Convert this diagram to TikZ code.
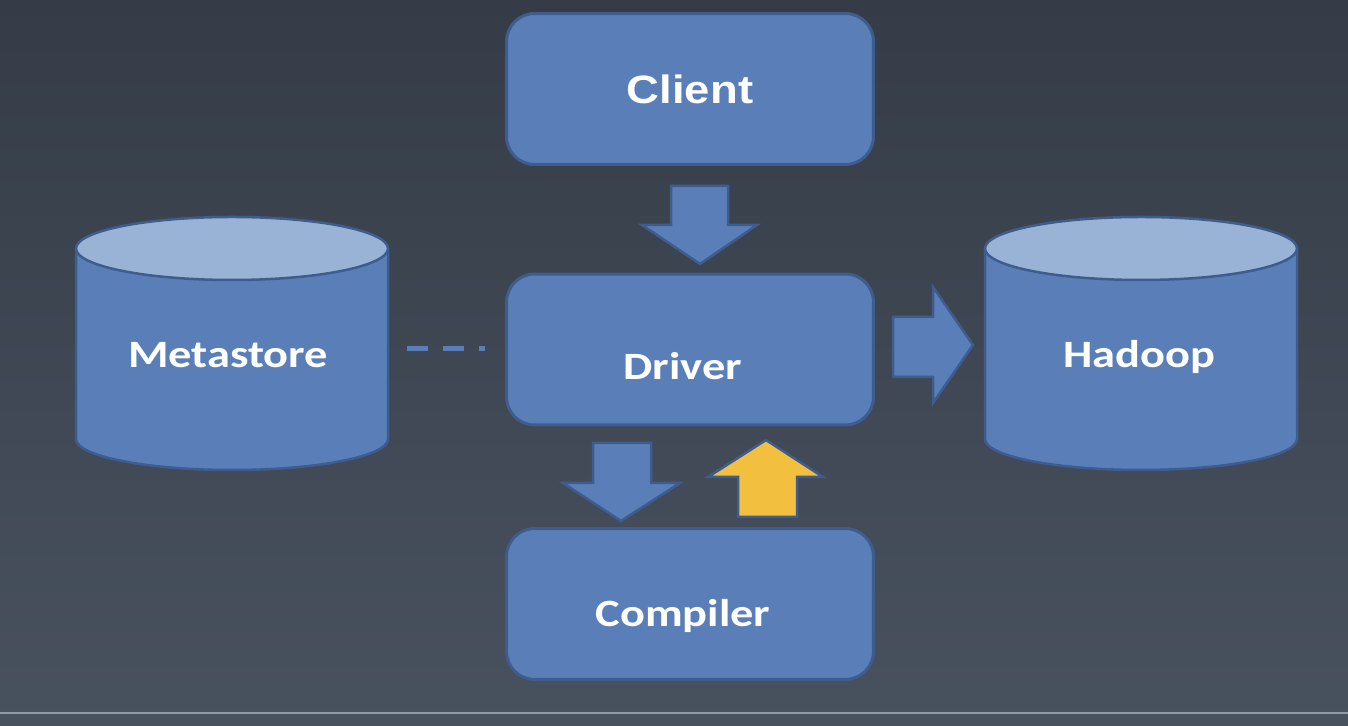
\documentclass[tikz,border=0pt]{standalone}
\usepackage{fontspec}
\newfontfamily\calfont{Carlito}[FakeStretch=1.2]
\newfontfamily\arfont{Liberation Sans}[FakeStretch=1.15]
\definecolor{bgtop}{HTML}{353C48}
\definecolor{bgbot}{HTML}{48525E}
\definecolor{boxblue}{HTML}{5A7FB8}
\definecolor{edge}{HTML}{3E5C8E}
\definecolor{cyltop}{HTML}{98B3D6}
\definecolor{arrowyellow}{HTML}{F2BF3E}
\definecolor{rulegray}{HTML}{8E9BAA}
\tikzset{
  box/.style={draw=edge, fill=boxblue, line width=0.06cm, rounded corners=0.56cm,
    minimum width=7.34cm, minimum height=3.02cm, inner sep=0pt},
  cylbody/.style={draw=edge, fill=boxblue, line width=0.05cm},
  cyltopst/.style={draw=edge, fill=cyltop, line width=0.05cm},
  blockarrow/.style={draw=edge, fill=boxblue, line width=0.05cm, line join=miter},
  yellowarrow/.style={draw=edge, fill=arrowyellow, line width=0.05cm, line join=miter},
  lbl/.style={text=white, inner sep=0pt, anchor=base, font=\calfont\bfseries\fontsize{22pt}{26pt}\selectfont},
  lblarial/.style={text=white, inner sep=0pt, anchor=base, font=\arfont\bfseries\fontsize{22.5pt}{26pt}\selectfont},
  dashconn/.style={draw=boxblue, line width=0.1cm, dash pattern=on 0.42cm off 0.3cm}
}
\begin{document}
\begin{tikzpicture}[x=0.02cm,y=0.02cm]
\shade[top color=bgtop, bottom color=bgbot] (0,0) rectangle (1348,726);
\useasboundingbox (0,0) rectangle (1348,726);
\draw[rulegray, line width=0.04cm] (0,13) -- (1348,13);

% boxes
\node[box] (client) at (690,637) {};
\node[box] (driver) at (690,376.5) {};
\node[box] (compiler) at (690,122) {};
\node[lblarial] (clientlbl) at (690,622) {Client};
\node[lbl] (driverlbl) at (683,346) {Driver};
\node[lbl] (compilerlbl) at (683,99) {Compiler};

% Metastore cylinder
\draw[cylbody] (76,477) -- (76,287) arc[start angle=180, end angle=360, x radius=156, y radius=31] -- (388,477) -- cycle;
\draw[cyltopst] (232,477.5) ellipse[x radius=156, y radius=31.5];
\node[inner sep=0pt, minimum width=6.24cm, minimum height=5.06cm] (meta) at (232,382) {};
\node[lbl] (metalbl) at (228,358) {Metastore};

% Hadoop cylinder
\draw[cylbody] (985,477) -- (985,287) arc[start angle=180, end angle=360, x radius=156, y radius=31] -- (1297,477) -- cycle;
\draw[cyltopst] (1141,477.5) ellipse[x radius=156, y radius=31.5];
\node[inner sep=0pt, minimum width=6.24cm, minimum height=5.06cm] (hadoop) at (1141,382) {};
\node[lbl] (hadooplbl) at (1139,358) {Hadoop};

% dashed connector Metastore - Driver
\coordinate (metaE) at (407,377);
\coordinate (driverW) at (485,377);
\draw[dashconn] (metaE) -- (driverW);

% block arrows
\draw[blockarrow] (671,540) -- (728,540) -- (728,501) -- (757,501) -- (700,462) -- (642,501) -- (671,501) -- cycle;
\draw[blockarrow] (593,283) -- (651,283) -- (651,243) -- (680,243) -- (621,205) -- (563,243) -- (593,243) -- cycle;
\draw[yellowarrow] (738,209) -- (797,209) -- (797,249) -- (823,249) -- (766,286) -- (708,249) -- (738,249) -- cycle;
\draw[blockarrow] (893,409) -- (933,409) -- (933,439) -- (973,381) -- (933,323) -- (933,349) -- (893,349) -- cycle;
\end{tikzpicture}
\end{document}
